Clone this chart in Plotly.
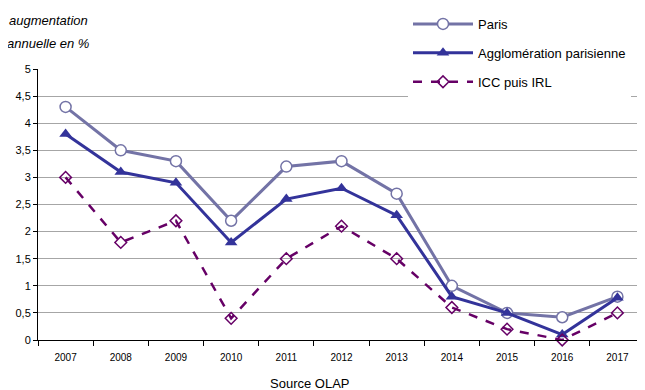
import plotly.graph_objects as go

years = ["2007", "2008", "2009", "2010", "2011", "2012", "2013", "2014", "2015", "2016", "2017"]
paris = [4.3, 3.5, 3.3, 2.2, 3.2, 3.3, 2.7, 1.0, 0.5, 0.42, 0.8]
agglo = [3.8, 3.1, 2.9, 1.8, 2.6, 2.8, 2.3, 0.8, 0.5, 0.1, 0.78]
icc = [3.0, 1.8, 2.2, 0.4, 1.5, 2.1, 1.5, 0.6, 0.2, 0.0, 0.5]

# page body has an 8px default margin; compensate so screen pixels match
O = 8
W, H = 645 - O, 390 - O
L, R, T, B = 38 - O, 0, 69 - O, 390 - 340
PW, PH = W - L - R, H - T - B


def px(x):
    return (x - O - L) / PW


def py(y):
    return (H - B - (y - O)) / PH


fig = go.Figure()
fig.add_trace(go.Scatter(
    x=years, y=paris, name="Paris", mode="lines+markers", legendgroup="a",
    line=dict(color="#7373A6", width=3),
    marker=dict(symbol="circle", size=11, color="white", line=dict(color="#7373A6", width=1.5)),
    cliponaxis=False))
fig.add_trace(go.Scatter(
    x=years, y=agglo, name="Agglomération parisienne", mode="lines+markers", legendgroup="b",
    line=dict(color="#33339A", width=3),
    marker=dict(symbol="triangle-up", size=11, color="#33339A"),
    cliponaxis=False))
fig.add_trace(go.Scatter(
    x=years, y=icc, name="ICC puis IRL", mode="lines+markers", legendgroup="c",
    line=dict(color="#660066", width=2.5, dash="dash"),
    marker=dict(symbol="diamond-open", size=9, color="#660066", line=dict(width=1.5)),
    cliponaxis=False))

fig.update_layout(
    width=W, height=H,
    margin=dict(l=L, r=R, t=T, b=B, autoexpand=False),
    paper_bgcolor="white", plot_bgcolor="white",
    separators=", ",
    font=dict(family="Liberation Sans, Arial, sans-serif", size=11, color="black"),
    showlegend=True,
    legend=dict(x=px(408), y=py(9), xanchor="left", yanchor="top",
                bgcolor="white", font=dict(size=13), itemwidth=60, tracegroupgap=9,
                borderwidth=0),
    xaxis=dict(type="category", range=[-0.5, len(years) - 0.5], tickson="boundaries",
               ticks="outside", ticklen=5, tickcolor="black", ticklabelstandoff=8,
               showline=True, linecolor="black", linewidth=1, showgrid=False,
               tickfont=dict(size=10)),
    yaxis=dict(range=[0, 5], dtick=0.5, ticks="outside", ticklen=4, tickcolor="black",
               showline=True, linecolor="black", linewidth=1, showgrid=True,
               gridcolor="#A6A6A6", gridwidth=1, zeroline=False, tickfont=dict(size=11)),
    shapes=[
        dict(type="rect", xref="paper", yref="paper", x0=px(374), x1=1.0, y0=py(92), y1=py(55),
             fillcolor="white", line=dict(width=0), layer="above"),
    ],
    annotations=[
        dict(text="<i>augmentation</i>", xref="paper", yref="paper", x=px(7), y=py(20),
             xanchor="left", yanchor="middle", showarrow=False, font=dict(size=13)),
        dict(text="<i>annuelle en %</i>", xref="paper", yref="paper", x=px(5), y=py(44),
             xanchor="left", yanchor="middle", showarrow=False, font=dict(size=13)),
        dict(text="Source OLAP", xref="paper", yref="paper", x=px(310), y=py(383),
             xanchor="center", yanchor="middle", showarrow=False, font=dict(size=13)),
    ],
)

fig.write_html("out.html")
